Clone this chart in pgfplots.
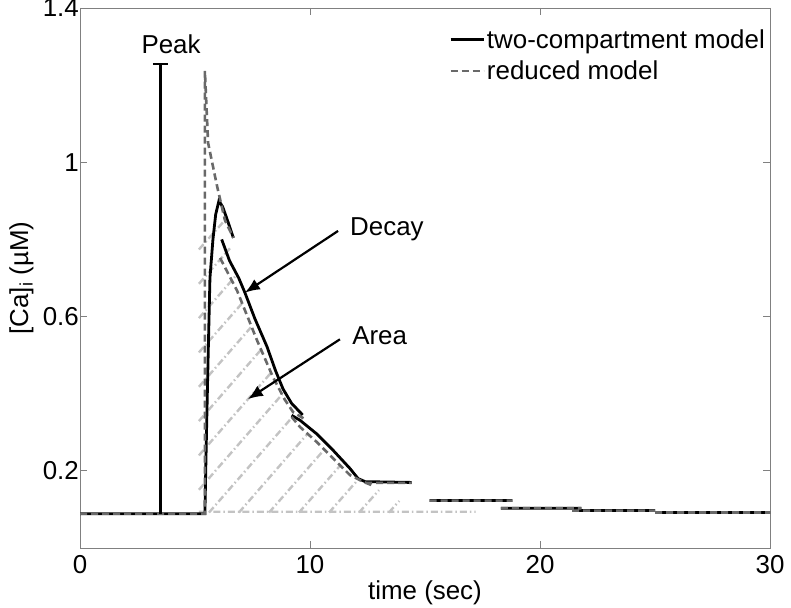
\documentclass[border=0pt]{standalone}
\usepackage{fontspec}
\setmainfont{Liberation Sans}
\usepackage{pgfplots}
\pgfplotsset{compat=1.18}
\usetikzlibrary{arrows.meta}

\definecolor{axgray}{RGB}{128,128,128}
\definecolor{redgray}{RGB}{105,105,105}
\definecolor{hatchgray}{RGB}{195,195,195}

\begin{document}
\begin{tikzpicture}[font=\fontsize{26}{31}\selectfont]
\begin{axis}[
  scale only axis, width=690bp, height=540bp,
  xmin=0, xmax=30, ymin=0, ymax=1.4,
  xtick={0,10,20,30}, ytick={0.2,0.6,1,1.4},
  /pgf/number format/assume math mode=true,
  tick align=inside, major tick length=7bp,
  axis line style={axgray, line width=0.8bp},
  tick style={axgray, line width=0.8bp},
  xticklabel style={inner sep=0pt, yshift=-7bp},
  yticklabel style={inner sep=1bp},
  xlabel={time (sec)}, ylabel={[Ca]\textsubscript{i} (µM)},
  xlabel style={at={(axis description cs:0.5,-0.083)}, anchor=center},
  ylabel style={at={(axis description cs:-0.085,0.5)}, anchor=center},
  legend style={at={(rel axis cs:1.0,0.968)}, anchor=north east,
    draw=none, fill=none, row sep=7bp},
  legend cell align=left,
  legend image code/.code={\draw[#1] (0bp,0bp) -- (33bp,0bp);},
  unbounded coords=jump,
]
\addlegendimage{black, line width=2.8bp}
\addlegendentry{two-compartment model}
\addlegendimage{redgray, line width=2.6bp, dash pattern=on 7bp off 4bp}
\addlegendentry{reduced model}

% hatched area
\addplot[hatchgray, line width=2.4bp, dash pattern=on 7bp off 3bp on 1.5bp off 3bp, forget plot] coordinates {
(5.17,0.094)(17.2,0.094) (5.2,nan)
(13.43,0.092)(13.88,0.122) (5.2,nan)
(12.13,0.092)(13.00,0.150) (5.2,nan)
(10.83,0.092)(12.07,0.176) (5.2,nan)
(9.52,0.092)(11.33,0.215) (5.2,nan)
(8.22,0.092)(10.59,0.253) (5.2,nan)
(6.91,0.092)(9.89,0.296) (5.2,nan)
(5.61,0.092)(9.30,0.344) (5.2,nan)
(5.17,0.151)(8.80,0.399) (5.2,nan)
(5.17,0.240)(8.30,0.454) (5.2,nan)
(5.17,0.329)(7.87,0.514) (5.2,nan)
(5.17,0.418)(7.43,0.572) (5.2,nan)
(5.17,0.507)(7.07,0.636) (5.2,nan)
(5.17,0.596)(6.75,0.704) (5.2,nan)
(5.17,0.685)(6.52,0.777) (5.2,nan)
(5.17,0.774)(6.30,0.850)
};

% two-compartment model
\addplot[black, line width=2.8bp, forget plot] coordinates {
(0,0.089)(5.43,0.089)(5.5,0.30)(5.57,0.494)(5.65,0.70)(5.78,0.80)(5.9,0.865)(6.04,0.90)(6.2,0.885)(6.38,0.855)(6.67,0.804) (6,nan)
(6.16,0.80)(6.5,0.745)(6.9,0.70)(7.17,0.662)(7.6,0.595)(8.13,0.522)(8.5,0.46)(8.83,0.412)(9.2,0.375)(9.68,0.345) (6,nan)
(9.2,0.344)(9.57,0.331)(10.29,0.296)(11.01,0.253)(11.74,0.206)(12.09,0.18)(12.4,0.172)(14.42,0.170) (6,nan)
(15.2,0.123)(18.8,0.123) (6,nan)
(18.3,0.103)(21.8,0.103) (6,nan)
(21.4,0.097)(25.0,0.097) (6,nan)
(25.0,0.092)(30,0.092)
};

% reduced model
\addplot[redgray, line width=2.6bp, dash pattern=on 7bp off 4bp, forget plot] coordinates {
(0,0.089)(5.43,0.089)(5.43,1.237)(5.57,1.05)(5.96,0.938)(6.3,0.85)(6.67,0.804) (6,nan)
(6.09,0.752)(6.83,0.667)(7.7,0.538)(8.39,0.443)(8.9,0.385)(9.27,0.352)(9.75,0.335) (6,nan)
(9.2,0.34)(9.57,0.3135)(10.29,0.275)(11.01,0.232)(11.74,0.189)(12.3,0.172)(12.68,0.163) (6,nan)
(12.4,0.169)(14.42,0.169) (6,nan)
(15.2,0.123)(18.8,0.123) (6,nan)
(18.3,0.103)(21.8,0.103) (6,nan)
(21.4,0.097)(25.0,0.097) (6,nan)
(25.0,0.092)(30,0.092)
};

% peak marker
\addplot[black, line width=2.2bp, forget plot] coordinates {
(3.5,0.089)(3.5,1.255) (3.5,nan) (3.17,1.255)(3.83,1.255)
};

\node[anchor=base] at (axis cs:3.96,1.281) {Peak};
\node[anchor=base west, inner sep=0pt] at (axis cs:11.74,0.809) {Decay};
\node[anchor=base west, inner sep=0pt] at (axis cs:11.83,0.528) {Area};
\draw[-{Latex[length=15bp,width=12bp]}, line width=2.2bp] (axis cs:11.22,0.822) -- (axis cs:7.17,0.662);
\draw[-{Latex[length=15bp,width=12bp]}, line width=2.2bp] (axis cs:11.30,0.541) -- (axis cs:7.30,0.386);
\end{axis}
\pgfresetboundingbox
\useasboundingbox (-80bp,-60bp) rectangle (711bp,548bp);
\end{tikzpicture}
\end{document}
